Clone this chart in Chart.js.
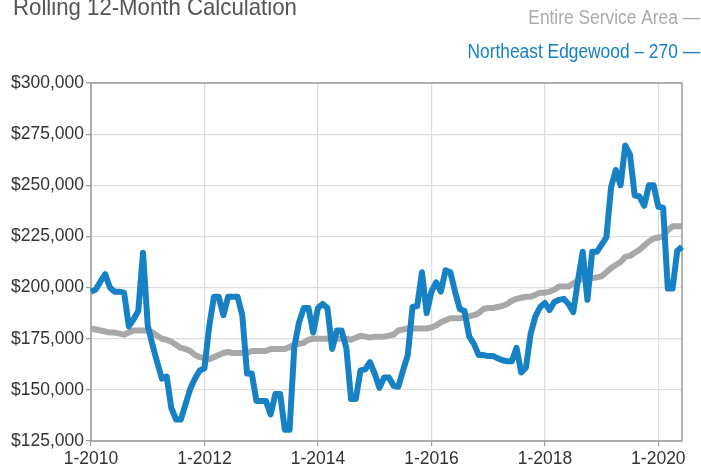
<!DOCTYPE html>
<html><head><meta charset="utf-8">
<script src="https://cdn.jsdelivr.net/npm/chart.js@4.4.1/dist/chart.umd.min.js"></script>
<style>html,body{margin:0;padding:0;background:#fff;overflow:hidden}canvas{display:block}</style>
</head><body>
<canvas id="c" width="701" height="468"></canvas>
<script>
const titleText = 'Rolling 12-Month Calculation';
const seriesNames = ['Northeast Edgewood \u2013 270', 'Entire Service Area'];
const startYear = 2010;
const monthCount = 126;
const months = [];
for (let i = 0; i < monthCount; i++) { months.push(((i % 12) + 1) + '-' + (startYear + Math.floor(i / 12))); }
const xTickLabels = ['1-2010', '1-2012', '1-2014', '1-2016', '1-2018', '1-2020'];
const yTickValues = [125000, 150000, 175000, 200000, 225000, 250000, 275000, 300000];

const edgewood = [
  198000,199000,203000,206500,200000,198000,198000,197500,181000,184500,188500,217000,
  181500,172000,163500,155500,156500,141000,135500,135500,143000,150500,155500,159500,
  160500,181000,195500,195500,186500,195500,195500,195500,186500,158000,158000,144500,
  144500,144500,138000,148000,148000,130500,130500,171000,183000,190000,190000,178000,
  190000,192000,190000,170000,179000,179000,170500,145500,145500,159500,160000,163500,
  158000,151000,156000,156000,152000,151500,159500,167000,190500,191000,207500,187500,
  198000,202500,198000,208500,207500,198000,189500,188500,176000,172500,167000,167000,
  166500,166500,165500,164500,164000,164000,170500,158500,161000,177500,186000,190500,
  192500,189000,193000,194000,194500,192000,188000,203500,217500,194000,217500,217500,
  221000,224500,249000,257500,250000,269500,265000,245000,244500,240000,250000,250000,
  239500,239000,199500,199500,218000,220000
];
const serviceArea = [
  180000,179500,179000,178500,178000,178000,177500,177000,178000,179000,179000,179000,
  179000,178000,176500,175000,174500,173500,172000,170500,170000,169000,167000,166000,
  165500,165000,166000,167000,168000,168500,168000,168000,168000,168000,169000,169000,
  169000,169000,170000,170000,170000,170000,171000,172000,172500,173000,174500,175000,
  175000,175000,175000,175000,175000,175000,175000,174500,175500,176500,176000,175500,
  176000,176000,176000,176500,177000,179000,179500,180000,180000,180000,180000,180000,
  180500,181500,183000,184000,185000,185000,185000,185500,186000,186500,187500,189500,
  190000,190000,190500,191000,192000,193500,194500,195000,195500,195500,196500,197500,
  197500,198000,199000,200500,200500,200500,202000,203500,204000,204000,204500,205000,
  205500,207500,209500,211000,212500,215000,215500,217000,218500,220500,222500,224000,
  224500,225000,228000,230000,230000,230000
];

const BLUE = '#1681c4';
const GRAY = '#a8a8a8';
const FONT = '"Liberation Sans", Arial, sans-serif';

function money(v) { return '$' + String(v).replace(/\B(?=(\d{3})+(?!\d))/g, ','); }

function squeezedText(c, text, x, y, size, sx, align) {
  c.save();
  c.font = size + 'px ' + FONT;
  c.textAlign = align;
  c.translate(x, y);
  c.scale(sx, 1);
  c.fillText(text, 0, 0);
  c.restore();
}

const decor = {
  id: 'decor',
  beforeDatasetsDraw(chart) {
    const a = chart.chartArea, c = chart.ctx;
    c.save();
    c.strokeStyle = '#9a9a9a';
    c.lineWidth = 1.5;
    c.strokeRect(a.left, a.top, a.right - a.left, a.bottom - a.top);
    c.restore();
  },
  afterDraw(chart) {
    const c = chart.ctx;
    c.save();
    c.textBaseline = 'alphabetic';
    c.fillStyle = '#555555';
    squeezedText(c, titleText, 13, 15, 24, 0.925, 'left');
    c.fillStyle = '#ababab';
    squeezedText(c, seriesNames[1] + ' \u2014', 700, 24, 19.5, 0.89, 'right');
    c.fillStyle = BLUE;
    squeezedText(c, seriesNames[0] + ' \u2014', 700, 58, 19.5, 0.89, 'right');
    c.restore();
  }
};

new Chart(document.getElementById('c'), {
  type: 'line',
  data: {
    labels: months,
    datasets: [
      { label: seriesNames[0], data: edgewood, borderColor: BLUE, borderWidth: 6, pointRadius: 0, tension: 0, borderJoinStyle: 'round', fill: false },
      { label: seriesNames[1], data: serviceArea, borderColor: GRAY, borderWidth: 6, pointRadius: 0, tension: 0, borderJoinStyle: 'round', fill: false }
    ]
  },
  options: {
    responsive: false,
    animation: false,
    devicePixelRatio: 1,
    layout: { padding: { top: 83, right: 19, left: 0, bottom: 0 } },
    plugins: { legend: { display: false }, title: { display: false }, tooltip: { enabled: false } },
    scales: {
      x: {
        type: 'category',
        offset: false,
        afterFit(s) { s.height = 27; },
        border: { display: false },
        grid: {
          color: ctx => xTickLabels.includes(months[ctx.index]) ? '#dddddd' : 'rgba(0,0,0,0)',
          tickColor: ctx => xTickLabels.includes(months[ctx.index]) ? '#9a9a9a' : 'rgba(0,0,0,0)',
          tickLength: 5,
          lineWidth: 1.2
        },
        ticks: {
          autoSkip: false,
          maxRotation: 0,
          minRotation: 0,
          padding: 3,
          color: '#333333',
          font: { family: FONT, size: 17.5 },
          callback(v, i) { const l = months[i]; return xTickLabels.includes(l) ? l : ''; }
        }
      },
      y: {
        min: 125000,
        max: 300000,
        afterFit(s) { s.width = 91; },
        afterBuildTicks(s) { s.ticks = yTickValues.map(v => ({ value: v })); },
        border: { display: false },
        grid: { color: '#dddddd', tickColor: '#9a9a9a', tickLength: 5, lineWidth: 1.2 },
        ticks: {
          padding: 2,
          color: '#333333',
          font: { family: FONT, size: 17.5 },
          callback: v => money(v)
        }
      }
    }
  },
  plugins: [decor]
});
</script>
</body></html>
